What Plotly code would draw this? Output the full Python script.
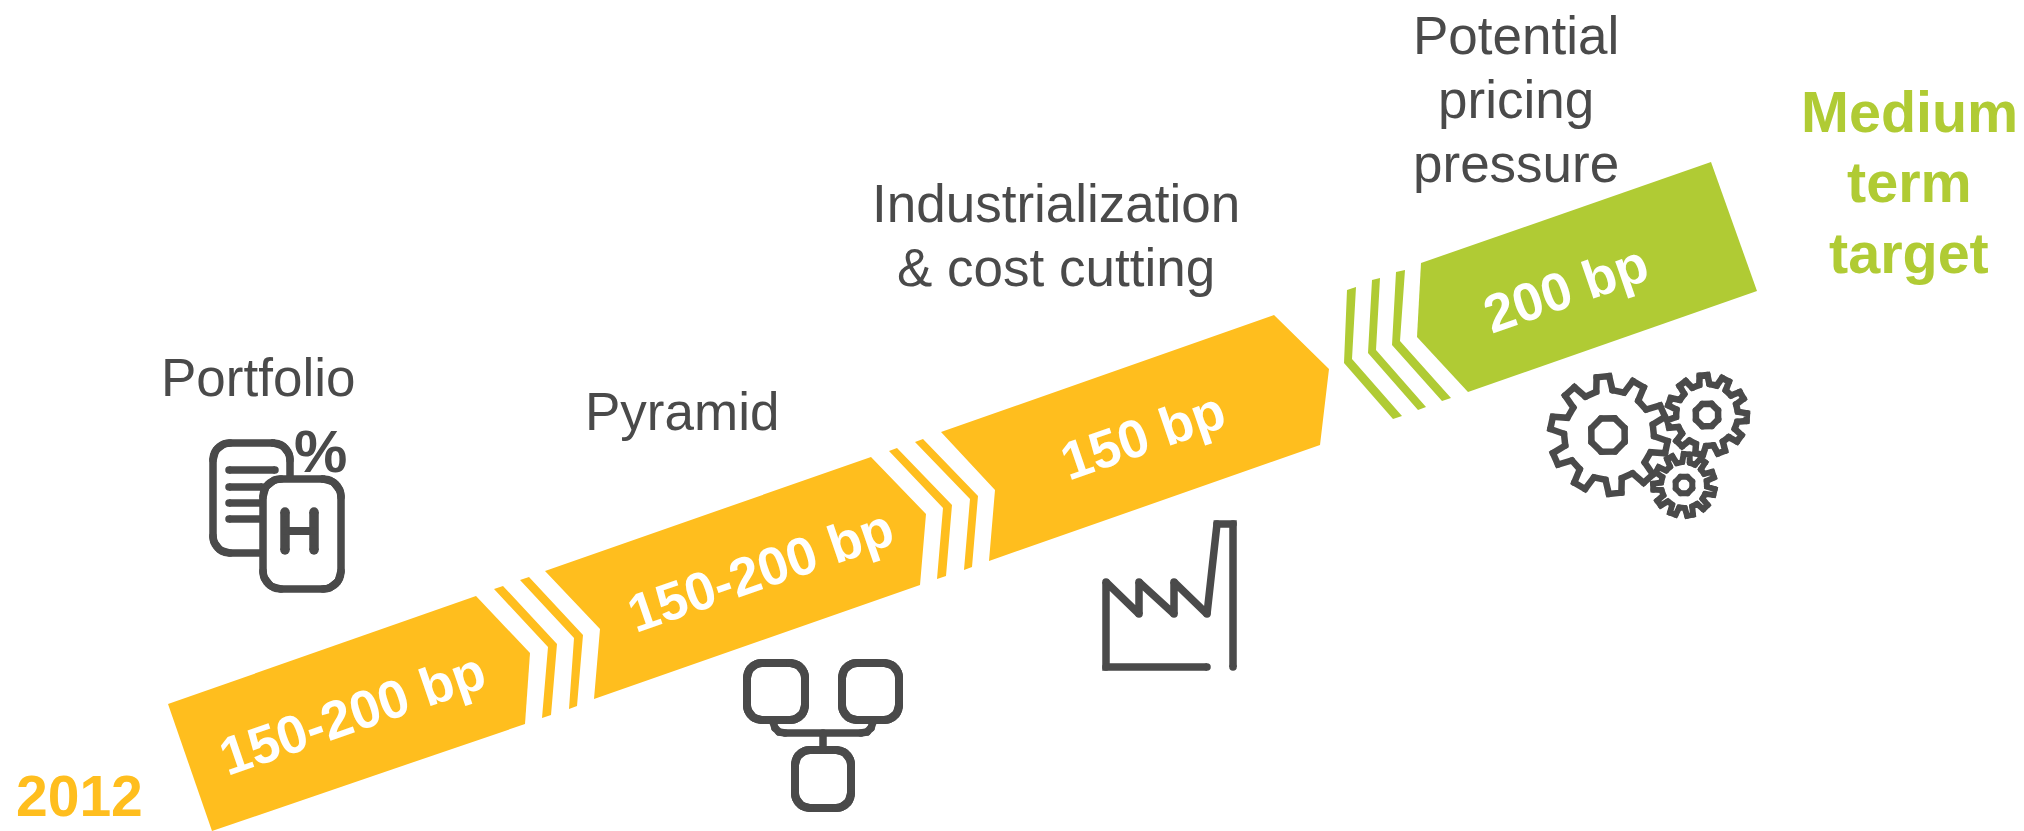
import math
import plotly.graph_objects as go

# Content of the margin-improvement roadmap
START_YEAR = "2012"
STAGE_GAINS = ["150-200 bp", "150-200 bp", "150 bp", "200 bp"]
PORTFOLIO_LINES = ["Portfolio"]
PYRAMID_LINES = ["Pyramid"]
INDUSTRIAL_LINES = ["Industrialization", "& cost cutting"]
PRICING_LINES = ["Potential", "pricing", "pressure"]
TARGET_LINES = ["Medium", "term", "target"]

ORANGE = "#FFBE1E"
GREEN = "#B0CB34"
GREY = "#4A4A4A"
WHITE = "#FFFFFF"
FONT = "'Liberation Sans', Arial, Helvetica, sans-serif"

fig = go.Figure()


def polygon(points, colour):
    xs, ys = zip(*(points + [points[0]]))
    fig.add_trace(go.Scatter(x=xs, y=ys, mode="lines", fill="toself", fillcolor=colour,
                             line=dict(width=0, color=colour), hoverinfo="skip"))


def stroke(points, width=7.5, fill=None, colour=GREY):
    """Polyline with rounded ends and joins, optionally filled."""
    xs, ys = zip(*points)
    fig.add_trace(go.Scatter(x=xs, y=ys, mode="lines+markers",
                             line=dict(width=width, color=colour),
                             marker=dict(size=width, color=colour, line=dict(width=0)),
                             fill="toself" if fill else None,
                             fillcolor=fill, hoverinfo="skip"))


def rounded_box(x0, y0, x1, y1, r):
    pts = []
    corners = [(x1 - r, y0 + r, -90), (x1 - r, y1 - r, 0), (x0 + r, y1 - r, 90), (x0 + r, y0 + r, 180)]
    for cx, cy, start in corners:
        for k in range(13):
            a = math.radians(start + k * 90 / 12)
            pts.append((cx + r * math.cos(a), cy + r * math.sin(a)))
    pts.append(pts[0])
    return pts


def gear(cx, cy, outer, root, teeth, phase):
    pitch = 360 / teeth
    pts = []
    for i in range(teeth):
        t = phase + i * pitch
        for rad, off in ((root, -0.29), (outer, -0.17), (outer, 0.17), (root, 0.29)):
            a = math.radians(t + off * pitch)
            pts.append((cx + rad * math.cos(a), cy - rad * math.sin(a)))
    pts.append(pts[0])
    return pts


def ring(cx, cy, r, sides, phase=0):
    pts = []
    for i in range(sides + 1):
        a = math.radians(phase + i * 360 / sides)
        pts.append((cx + r * math.cos(a), cy + r * math.sin(a)))
    return pts


def text(x, baseline, label, size, colour, bold=False, angle=0):
    fig.add_annotation(x=x, y=baseline - 0.30 * size, text=f"<b>{label}</b>" if bold else label,
                       showarrow=False, xanchor="center", yanchor="middle", textangle=angle,
                       font=dict(family=FONT, size=size, color=colour))


# Arrow body segments
polygon([(168, 704), (476, 596), (530, 653), (525, 724), (212, 831)], ORANGE)
polygon([(545, 571), (871, 457), (926, 514), (920, 585), (594, 699), (600, 629)], ORANGE)
polygon([(941, 432), (1274, 315), (1329, 369), (1320, 445), (989, 561), (995, 490)], ORANGE)
polygon([(1421, 263), (1711, 162), (1757, 291), (1468, 392), (1417, 337)], GREEN)

# Chevron stripes between the segments
polygon([(494, 589), (503, 586), (557, 644), (551, 715), (542, 718), (548, 647)], ORANGE)
polygon([(520, 580), (529, 577), (583, 635), (577, 706), (569, 709), (574, 638)], ORANGE)
polygon([(889, 451), (897, 448), (952, 505), (946, 576), (937, 579), (943, 508)], ORANGE)
polygon([(915, 442), (923, 439), (978, 496), (972, 567), (964, 570), (970, 499)], ORANGE)
polygon([(1347, 290), (1356, 287), (1352, 359), (1402, 416), (1393, 419), (1344, 363)], GREEN)
polygon([(1372, 280), (1380, 278), (1376, 350), (1426, 407), (1418, 410), (1368, 353)], GREEN)
polygon([(1396, 272), (1405, 270), (1400, 341), (1451, 398), (1442, 401), (1392, 345)], GREEN)

# Portfolio icon
stroke(rounded_box(213, 443, 290, 553, 17))
for y, x_end in ((470, 275), (487, 262), (503, 262), (519, 262)):
    stroke([(229, y), (x_end, y)], width=7.5)
stroke(rounded_box(263, 479, 341, 589, 18), fill=WHITE)
stroke([(285, 512), (285, 550)], width=9.5)
stroke([(314, 512), (314, 550)], width=9.5)
stroke([(285, 531), (314, 531)], width=8)

# Pyramid icon
stroke(rounded_box(747, 663, 805, 720, 15), width=8)
stroke(rounded_box(842, 663, 899, 720, 15), width=8)
stroke(rounded_box(795, 750, 851, 808, 15), width=8)
stroke([(773, 722), (775, 728), (779, 732), (785, 733), (861, 733), (867, 732), (871, 728), (873, 722)], width=7.5)
stroke([(823, 733), (823, 750)], width=7.5)

# Factory icon
stroke([(1207, 667), (1106, 667), (1106, 582), (1139, 614), (1139, 582), (1174, 614), (1174, 582),
        (1207, 614), (1217, 524), (1233, 524), (1233, 667)], width=7.5)

# Gears
stroke(gear(1609, 435, 59, 45, 10, 96), width=6.5)
stroke(ring(1608, 435, 18, 8, 22), width=6.5)
stroke(gear(1707, 415, 40, 31, 11, 95), width=6.5)
stroke(ring(1707, 415, 12, 8, 22), width=6.5)
stroke(gear(1684, 485, 31, 23, 11, 85), width=6)
stroke(ring(1684, 485, 9, 8, 22), width=6)

# Text
text(258, 393, PORTFOLIO_LINES[0], 53, GREY)
text(682, 427, PYRAMID_LINES[0], 53, GREY)
for line, base in zip(INDUSTRIAL_LINES, (219.5, 283.5)):
    text(1056, base, line, 53, GREY)
for line, base in zip(PRICING_LINES, (51, 115, 179)):
    text(1516, base, line, 53, GREY)
for line, base in zip(TARGET_LINES, (129, 199, 270)):
    text(1909, base, line, 57.5, GREEN, bold=True)
text(320, 469, "%", 60, GREY, bold=True)

# The start year sits against the lower edge, so it is anchored by its bottom
fig.add_annotation(x=79, y=830, text=f"<b>{START_YEAR}</b>", showarrow=False,
                   xanchor="center", yanchor="bottom",
                   font=dict(family=FONT, size=57, color=ORANGE))

GAIN_CENTRES = [(352.5, 713.5), (760, 570), (1143, 435.5), (1566, 288.5)]
for (x, y), label in zip(GAIN_CENTRES, STAGE_GAINS):
    fig.add_annotation(x=x, y=y, text=f"<b>{label}</b>", showarrow=False, textangle=-19,
                       xanchor="center", yanchor="middle",
                       font=dict(family=FONT, size=53.5, color=WHITE))

fig.update_layout(
    width=2024, height=831, margin=dict(l=0, r=0, t=0, b=0),
    paper_bgcolor=WHITE, plot_bgcolor=WHITE, showlegend=False,
    xaxis=dict(range=[0, 2024], visible=False, fixedrange=True),
    yaxis=dict(range=[831, 0], visible=False, fixedrange=True),
)
fig.write_html("out.html", config=dict(displayModeBar=False))
